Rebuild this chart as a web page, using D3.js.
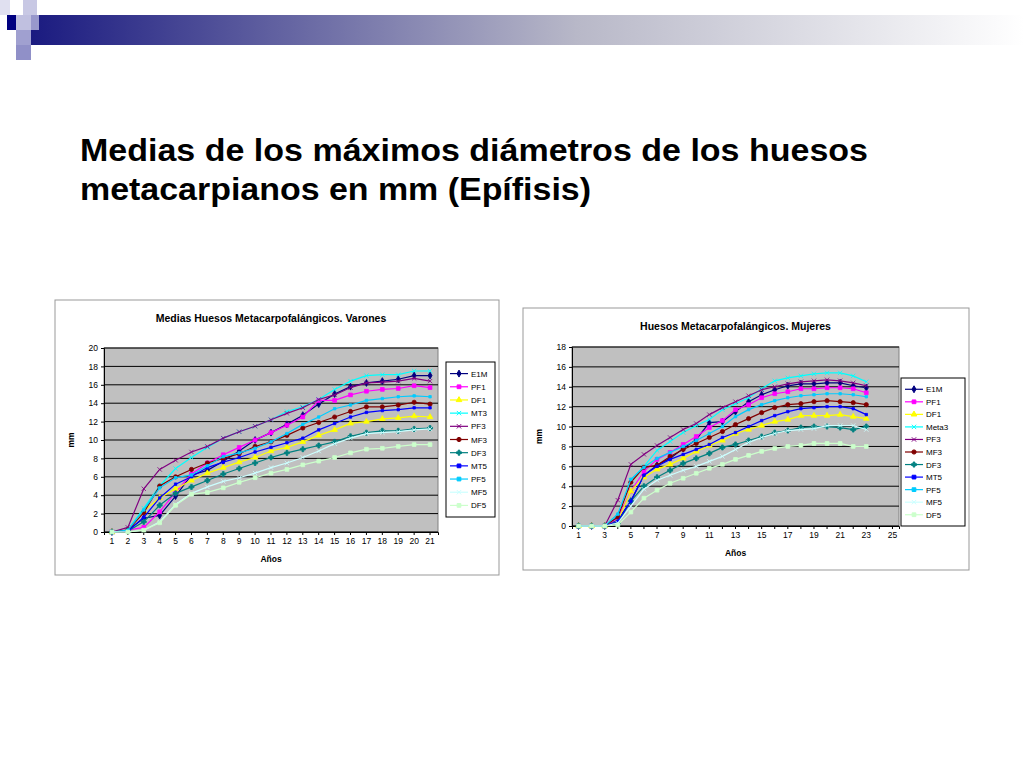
<!DOCTYPE html>
<html><head><meta charset="utf-8">
<script src="https://cdn.jsdelivr.net/npm/d3@7"></script>
<style>body{margin:0;background:#fff;font-family:Arial,"Liberation Sans",sans-serif}</style>
</head><body><svg id="slide" width="1024" height="768"></svg>
<script>
var seriesNamesM = ["E1M","PF1","DF1","MT3","PF3","MF3","DF3","MT5","PF5","MF5","DF5"];
var seriesNamesF = ["E1M","PF1","DF1","Meta3","PF3","MF3","DF3","MT5","PF5","MF5","DF5"];
var colors = ["#000080","#ff00ff","#ffff00","#00ffff","#800080","#800000","#008080","#0000ff","#00ccff","#ccffff","#ccffcc"];
var shapes = ["diamond","square","triangle","x","star","circle","plus","dash","dash","x","square"];

var yearsM = d3.range(1, 22);
var yearsAxisF = d3.range(1, 26);
var yearsF = d3.range(1, 24);

var E1M_m = [0,0.2,1.5,1.8,3.9,6.2,6.7,7.7,8.8,10,10.8,11.7,12.7,13.9,15,15.8,16.2,16.4,16.6,17,17];
var PF1_m = [0,0.2,0.5,2.2,4.3,6.3,7.5,8.4,9.2,10,10.8,11.6,12.5,14.3,14.3,14.9,15.3,15.5,15.6,15.9,15.7];
var DF1_m = [0,0.2,2.3,3.7,4.7,5.6,6.4,7,7.6,8.1,8.8,9.2,9.8,10.5,11.1,11.8,12,12.3,12.4,12.6,12.5];
var MT3_m = [0,0.2,2.6,5,6.9,8.1,9.2,10.2,10.9,11.5,12.2,13.1,13.6,14.4,15.5,16.4,17,17.1,17.1,17.5,17.5];
var PF3_m = [0,0.5,4.7,6.8,7.8,8.7,9.3,10.2,10.9,11.5,12.2,12.9,13.5,14.4,14.9,15.7,16.2,16.3,16.4,16.7,16.4];
var MF3_m = [0,0.2,2.1,5,6,6.8,7.5,8,8.5,9.3,9.8,10.5,11.3,11.9,12.5,13.1,13.6,13.6,13.8,14.1,13.9];
var DF3_m = [0,0.1,1.1,2.9,4.2,4.9,5.6,6.3,6.9,7.5,8.1,8.6,9,9.4,9.8,10.4,10.8,11,11,11.2,11.3];
var MT5_m = [0,0.1,1.6,3.7,5.2,6,7,7.6,8.1,8.7,9.2,9.7,10.2,11.1,11.8,12.5,13,13.2,13.3,13.5,13.5];
var PF5_m = [0,0.2,2.4,4.8,5.9,6.2,7.2,8.2,8.6,9.1,9.8,10.7,11.7,12.5,13.4,13.8,14.3,14.5,14.7,14.8,14.7];
var MF5_m = [0,0,0.2,1.1,3,4.2,4.9,5.5,5.9,6.4,7,7.5,8.1,8.8,9.6,10.2,10.7,10.8,10.9,11.1,11.2];
var DF5_m = [0,0,0.2,1,2.9,4.1,4.3,4.8,5.4,5.9,6.4,6.8,7.3,7.7,8.1,8.6,9,9.1,9.3,9.5,9.5];

var E1M_f = [0,0,0,0.6,2.5,5.1,6.1,6.8,7.8,8.7,10.4,10.5,11.5,12.5,13.2,13.7,14.1,14.3,14.3,14.4,14.4,14.1,13.9];
var PF1_f = [0,0,0,0.8,3.5,5.5,6.7,7.4,8.2,9,9.9,10.6,11.7,12.2,12.9,13.3,13.5,13.8,13.8,13.9,13.9,13.8,13.4];
var DF1_f = [0,0,0,0.5,3.5,4.9,5.7,6.2,6.8,7.5,8.1,8.6,9.3,9.7,10.1,10.5,10.7,11.1,11.1,11.1,11.2,11,10.8];
var Meta3_f = [0,0,0,1,4.6,6,7.6,8.5,9.4,10.1,10.7,11.7,12.3,12.9,13.8,14.6,14.9,15.1,15.3,15.4,15.4,15.1,14.5];
var PF3_f = [0,0,0,2.6,6.2,7.2,8.1,8.9,9.7,10.3,11.2,11.9,12.5,13.1,13.7,14,14.3,14.5,14.6,14.7,14.6,14.4,14.1];
var MF3_f = [0,0,0,0.9,4.4,5.9,6.1,7,7.7,8.3,8.9,9.5,10.2,10.8,11.4,11.9,12.2,12.3,12.5,12.6,12.5,12.4,12.2];
var DF3_f = [0,0,0,0.3,2.5,4,4.9,5.6,6.3,6.8,7.3,7.9,8.2,8.6,9,9.4,9.6,9.9,10,10,9.9,9.7,10];
var MT5_f = [0,0,0,0.5,2.5,5.1,6,6.7,7.2,7.7,8.2,8.9,9.4,10,10.6,11.1,11.5,11.8,11.9,12,12,11.8,11.2];
var PF5_f = [0,0,0,1.2,4.7,5.9,6.8,7.4,8,8.6,9.3,10,11,11.7,12.2,12.6,12.9,13.1,13.2,13.3,13.3,13.2,13];
var MF5_f = [0,0,0,0.3,2,3.7,4.6,5.1,5.6,6,6.5,7,7.7,8.4,8.9,9.3,9.6,9.7,9.8,10.1,10.1,10.1,9.7];
var DF5_f = [0,0,0,0.1,1.4,2.8,3.6,4.3,4.8,5.3,5.8,6.2,6.7,7.1,7.5,7.8,8,8.1,8.3,8.3,8.3,8,8];

var svg = d3.select("#slide");

// slide header decoration
var grad = svg.append("defs").append("linearGradient").attr("id", "hdr");
grad.append("stop").attr("offset", "0%").attr("stop-color", "#1a1a80");
grad.append("stop").attr("offset", "55%").attr("stop-color", "#b8b8c8");
grad.append("stop").attr("offset", "100%").attr("stop-color", "#ffffff");
svg.append("rect").attr("x", 30).attr("y", 15).attr("width", 994).attr("height", 30).attr("fill", "url(#hdr)");
[[0,0,10,15,"#e0e0f0"],[23,0,14,15,"#c8c8e4"],[16,15,15,15,"#c0c0e0"],[7,15,9,15,"#000080"],[31,15,8,15,"#9898cc"],[16,30,15,15,"#a0a0d0"],[16,45,15,15,"#9090c8"]].forEach(function(s) {
	svg.append("rect").attr("x", s[0]).attr("y", s[1]).attr("width", s[2]).attr("height", s[3]).attr("fill", s[4]);
});

svg.append("text").attr("x", 80).attr("y", 161).attr("font-size", 31).attr("font-weight", "bold")
	.attr("textLength", 788).attr("lengthAdjust", "spacingAndGlyphs")
	.text("Medias de los máximos diámetros de los huesos");
svg.append("text").attr("x", 80).attr("y", 200).attr("font-size", 31).attr("font-weight", "bold")
	.attr("textLength", 511).attr("lengthAdjust", "spacingAndGlyphs")
	.text("metacarpianos en mm (Epífisis)");

function symbolFor(name) {
	return {diamond: d3.symbolDiamond, square: d3.symbolSquare, triangle: d3.symbolTriangle, x: d3.symbolTimes,
		star: d3.symbolTimes, circle: d3.symbolCircle, plus: d3.symbolCross, dash: d3.symbolSquare}[name];
}

function drawChart(cfg) {
	var g = svg.append("g");
	g.append("rect").attr("x", cfg.box[0]).attr("y", cfg.box[1]).attr("width", cfg.box[2]).attr("height", cfg.box[3])
		.attr("fill", "#fff").attr("stroke", "#999");
	g.append("text").attr("x", (cfg.plot[0] + cfg.plot[1]) / 2).attr("y", cfg.box[1] + 22).attr("text-anchor", "middle")
		.attr("font-size", 10.5).attr("font-weight", "bold").text(cfg.title);

	var x = d3.scaleBand().domain(cfg.axisCats).range([cfg.plot[0], cfg.plot[1]]);
	var y = d3.scaleLinear().domain([0, cfg.ymax]).range([cfg.plot[3], cfg.plot[2]]);

	g.append("rect").attr("x", cfg.plot[0]).attr("y", cfg.plot[2]).attr("width", cfg.plot[1] - cfg.plot[0])
		.attr("height", cfg.plot[3] - cfg.plot[2]).attr("fill", "#c0c0c0").attr("stroke", "#808080");
	g.selectAll("line.grid").data(y.ticks(cfg.ymax / 2)).enter().append("line")
		.attr("x1", cfg.plot[0]).attr("x2", cfg.plot[1])
		.attr("y1", function(d) { return y(d); }).attr("y2", function(d) { return y(d); })
		.attr("stroke", "#000").attr("stroke-width", 1);

	var yAxis = g.append("g").attr("transform", "translate(" + cfg.plot[0] + ",0)")
		.call(d3.axisLeft(y).ticks(cfg.ymax / 2).tickSize(3));
	var xAxis = g.append("g").attr("transform", "translate(0," + cfg.plot[3] + ")")
		.call(d3.axisBottom(x).tickSize(3).tickFormat(function(d) { return cfg.labelEvery === 2 && d % 2 === 0 ? "" : d; }));
	[xAxis, yAxis].forEach(function(a) {
		a.selectAll("text").attr("font-size", 8.5).attr("font-family", "Arial");
		a.select(".domain").attr("stroke", "#000");
	});

	g.append("text").attr("x", (cfg.plot[0] + cfg.plot[1]) / 2).attr("y", cfg.plot[3] + 30).attr("text-anchor", "middle")
		.attr("font-size", 8.5).attr("font-weight", "bold").text("Años");
	g.append("text").attr("transform", "translate(" + (cfg.plot[0] - 30) + "," + ((cfg.plot[2] + cfg.plot[3]) / 2) + ") rotate(-90)")
		.attr("text-anchor", "middle").attr("font-size", 8.5).attr("font-weight", "bold").text("mm");

	var line = d3.line().x(function(d) { return x(d[0]) + x.bandwidth() / 2; }).y(function(d) { return y(d[1]); });
	cfg.series.forEach(function(vals, i) {
		var pts = vals.map(function(v, j) { return [cfg.cats[j], v]; });
		g.append("path").datum(pts).attr("d", line).attr("fill", "none").attr("stroke", colors[i]).attr("stroke-width", 1.2);
		var sym = d3.symbol().type(symbolFor(shapes[i])).size(shapes[i] === "dash" ? 6 : 14);
		g.selectAll(null).data(pts).enter().append("path")
			.attr("d", sym)
			.attr("transform", function(d) { return "translate(" + (x(d[0]) + x.bandwidth() / 2) + "," + y(d[1]) + ")"; })
			.attr("fill", colors[i]).attr("stroke", colors[i]).attr("stroke-width", 0.8);
	});

	var L = cfg.legend;
	g.append("rect").attr("x", L[0]).attr("y", L[1]).attr("width", L[2]).attr("height", L[3]).attr("fill", "#fff").attr("stroke", "#000");
	var step = (L[3] - 10) / cfg.names.length;
	cfg.names.forEach(function(n, i) {
		var yy = L[1] + 5 + step * (i + 0.5);
		g.append("line").attr("x1", L[0] + 4).attr("x2", L[0] + 22).attr("y1", yy).attr("y2", yy).attr("stroke", colors[i]).attr("stroke-width", 1.2);
		g.append("path").attr("d", d3.symbol().type(symbolFor(shapes[i])).size(14))
			.attr("transform", "translate(" + (L[0] + 13) + "," + yy + ")").attr("fill", colors[i]).attr("stroke", colors[i]);
		g.append("text").attr("x", L[0] + 25).attr("y", yy + 3).attr("font-size", 8).text(n);
	});
}

drawChart({
	box: [55, 300, 444, 275], plot: [104, 438, 348, 532], legend: [446, 362, 49, 155], ymax: 20,
	title: "Medias Huesos Metacarpofalángicos. Varones", axisCats: yearsM, cats: yearsM, labelEvery: 1,
	names: seriesNamesM, series: [E1M_m, PF1_m, DF1_m, MT3_m, PF3_m, MF3_m, DF3_m, MT5_m, PF5_m, MF5_m, DF5_m]
});
drawChart({
	box: [523, 308, 446, 262], plot: [572, 899, 347, 526], legend: [901, 378, 64, 148], ymax: 18,
	title: "Huesos Metacarpofalángicos. Mujeres", axisCats: yearsAxisF, cats: yearsF, labelEvery: 2,
	names: seriesNamesF, series: [E1M_f, PF1_f, DF1_f, Meta3_f, PF3_f, MF3_f, DF3_f, MT5_f, PF5_f, MF5_f, DF5_f]
});
</script>
</body></html>
